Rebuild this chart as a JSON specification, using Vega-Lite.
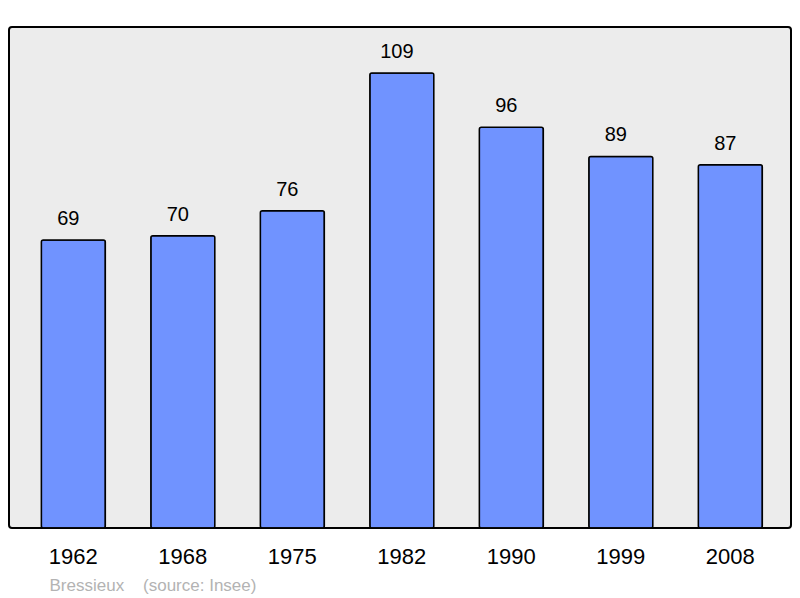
{
  "$schema": "https://vega.github.io/schema/vega-lite/v6.json",
  "width": 782,
  "height": 501,
  "autosize": "none",
  "padding": {"left": 9, "top": 27, "right": 9, "bottom": 70},
  "background": "white",
  "data": {
    "values": [
      {"year": "1962", "pop": 69},
      {"year": "1968", "pop": 70},
      {"year": "1975", "pop": 76},
      {"year": "1982", "pop": 109},
      {"year": "1990", "pop": 96},
      {"year": "1999", "pop": 89},
      {"year": "2008", "pop": 87}
    ]
  },
  "encoding": {
    "x": {
      "field": "year",
      "type": "ordinal",
      "sort": null,
      "scale": {"paddingInner": 0.4155, "paddingOuter": 0.2786, "align": 0.53},
      "axis": {
        "title": "Bressieux\u00a0\u00a0\u00a0 (source: Insee)",
        "titleAnchor": "start",
        "titleAlign": "left",
        "titleX": 40,
        "titleY": 62,
        "titleBaseline": "alphabetic",
        "titleFontSize": 17,
        "titleFontWeight": "normal",
        "titleColor": "#b3b3b3",
        "titleFont": "Liberation Sans",
        "labelAngle": 0,
        "labelFontSize": 22,
        "labelFont": "Liberation Sans",
        "labelColor": "black",
        "labelPadding": 35,
        "labelBaseline": "alphabetic",
        "domain": false,
        "ticks": false,
        "grid": false
      }
    },
    "y": {
      "field": "pop",
      "type": "quantitative",
      "scale": {"domain": [0, 120], "nice": false},
      "axis": null
    }
  },
  "layer": [
    {
      "mark": {"type": "bar", "color": "#7093ff", "stroke": "black", "strokeWidth": 1.5, "cornerRadius": 2}
    },
    {
      "mark": {"type": "text", "baseline": "alphabetic", "dx": -5, "dy": -15, "fontSize": 20, "font": "Liberation Sans", "color": "black"},
      "encoding": {"text": {"field": "pop", "type": "quantitative"}}
    }
  ],
  "config": {
    "view": {"fill": "#ececec", "stroke": "black", "strokeWidth": 2, "cornerRadius": 3}
  }
}
